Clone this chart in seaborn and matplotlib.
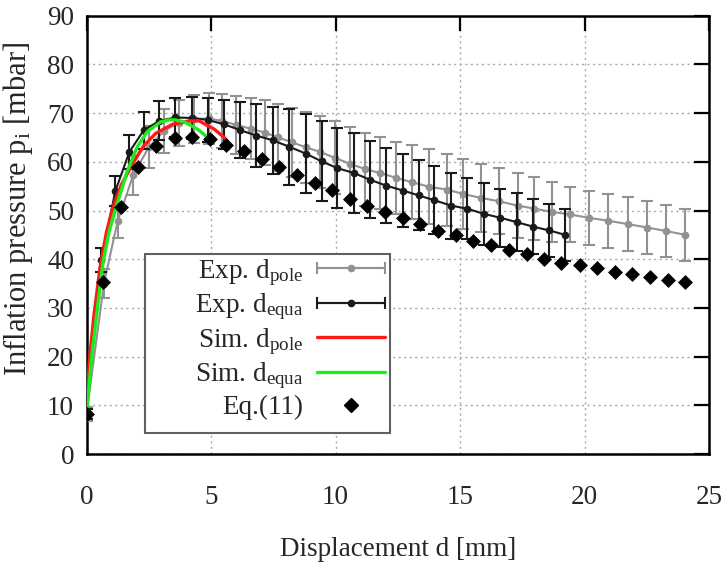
import numpy as np
import pandas as pd
import matplotlib
matplotlib.use("Agg")
import matplotlib.pyplot as plt
import seaborn as sns
from matplotlib.container import ErrorbarContainer
from matplotlib.legend_handler import HandlerErrorbar
from matplotlib.lines import Line2D
from matplotlib.patches import Rectangle

# ---------------- data ----------------
pole_x = [0, 0.70, 1.25, 1.87, 2.50, 3.10, 3.70, 4.30, 4.90, 5.45, 6.00, 6.60, 7.15, 7.70,
          8.25, 8.80, 9.39, 9.98, 10.58, 11.19, 11.79, 12.44, 13.07, 13.74, 14.46, 15.13,
          15.83, 16.57, 17.31, 17.98, 18.69, 19.40, 20.17, 20.95, 21.75, 22.52, 23.27, 24.04]
pole_y = [8.2, 35.0, 47.8, 57.2, 63.0, 66.3, 68.0, 68.8, 68.9, 68.4, 67.6, 66.8, 66.0, 65.0,
          64.0, 63.0, 62.0, 60.8, 59.6, 58.5, 57.7, 56.7, 55.8, 54.9, 54.3, 53.4,
          52.6, 51.9, 51.0, 50.4, 49.7, 49.2, 48.5, 47.9, 47.2, 46.5, 45.8, 45.0]
pole_err = [1.5, 3.0, 3.5, 4.0, 4.3, 4.5, 4.7, 4.9, 5.2, 5.6, 6.0, 6.3, 6.6, 6.9,
            7.1, 7.3, 7.4, 7.5, 7.5, 7.5, 7.4, 7.4, 7.6, 7.7, 7.4, 7.2,
            7.0, 6.8, 6.6, 6.4, 6.1, 5.7, 5.6, 5.5, 5.5, 5.4, 5.3, 5.3]

equa_x = [0, 0.58, 1.16, 1.72, 2.30, 2.93, 3.56, 4.23, 4.86, 5.53, 6.17, 6.81, 7.49, 8.14,
          8.80, 9.44, 10.07, 10.74, 11.39, 12.04, 12.71, 13.34, 13.97, 14.65, 15.27, 15.97,
          16.62, 17.29, 17.92, 18.59, 19.22]
equa_y = [8.2, 39.8, 54.0, 62.0, 66.5, 68.4, 69.1, 69.0, 68.6, 67.7, 66.5, 65.4, 64.4, 63.1,
          61.7, 60.1, 58.7, 57.7, 56.3, 55.1, 54.1, 53.1, 52.1, 51.0, 50.4, 49.3,
          48.5, 47.6, 46.7, 45.9, 45.0]
equa_err = [1.0, 2.5, 3.0, 3.5, 3.8, 4.0, 4.0, 4.3, 4.5, 5.0, 5.7, 6.4, 6.9, 7.8,
            8.2, 8.2, 8.2, 8.3, 7.9, 7.7, 7.5, 7.2, 7.0, 6.8, 6.3, 6.3,
            6.0, 5.9, 5.7, 5.5, 5.3]

sim_pole_x = [0, 0.12, 0.30, 0.55, 0.80, 1.05, 1.40, 1.90, 2.30, 2.77, 3.45, 4.19, 4.52,
              5.13, 5.53, 5.67]
sim_pole_y = [8.2, 19.5, 28.5, 38.5, 45.5, 50.5, 55.3, 60.0, 63.3, 65.8, 67.7, 68.4, 68.4,
              66.7, 65.0, 64.1]
sim_equa_x = [0, 0.20, 0.45, 0.67, 0.90, 1.18, 1.63, 2.03, 2.44, 2.98, 3.30, 3.58, 3.92,
              4.46, 5.06]
sim_equa_y = [8.2, 19.5, 30.5, 39.5, 45.5, 50.5, 58.0, 63.0, 66.2, 68.2, 68.6, 68.6, 68.2,
              66.7, 64.2]

eq11_x = [0, 0.65, 1.37, 2.07, 2.80, 3.54, 4.25, 4.95, 5.60, 6.34, 7.05, 7.75, 8.45, 9.17,
          9.87, 10.58, 11.28, 12.00, 12.71, 13.41, 14.11, 14.82, 15.53, 16.24, 16.98, 17.69,
          18.36, 19.06, 19.80, 20.52, 21.22, 21.89, 22.63, 23.34, 24.04]
eq11_y = [8.2, 35.4, 50.7, 59.0, 63.3, 64.9, 65.0, 64.7, 63.5, 62.2, 60.6, 58.9, 57.3, 55.7,
          54.2, 52.4, 51.0, 49.7, 48.5, 47.2, 45.8, 44.9, 43.8, 42.9, 41.8, 41.0,
          40.0, 39.2, 38.8, 38.1, 37.4, 37.0, 36.3, 35.7, 35.4]

x_ticks = [0, 5, 10, 15, 20, 25]
y_ticks = [0, 10, 20, 30, 40, 50, 60, 70, 80, 90]

labels = ["Exp. d$_{\\mathrm{pole}}$", "Exp. d$_{\\mathrm{equa}}$",
          "Sim. d$_{\\mathrm{pole}}$", "Sim. d$_{\\mathrm{equa}}$", "Eq.(11)"]
x_label = "Displacement d [mm]"
y_label = "Inflation pressure p$_{\\mathrm{i}}$ [mbar]"

# ---------------- style ----------------
sns.set_theme(style="white")
plt.rcParams["font.family"] = ["Liberation Serif", "DejaVu Serif"]
plt.rcParams["mathtext.fontset"] = "custom"
plt.rcParams["mathtext.rm"] = "Liberation Serif"
plt.rcParams["mathtext.it"] = "Liberation Serif:italic"

FS = 19.5
GREY = "#929292"
BLACK = "#1a1a1a"
RED = "#ff1a1a"
GREEN = "#1aee1a"

fig = plt.figure(figsize=(7.25, 5.64), dpi=100)
ax = fig.add_axes([86.5 / 725, 1 - 454 / 564, (709 - 86.5) / 725, (454 - 15.7) / 564])

# experiments (error bars)
eb_pole = ax.errorbar(pole_x, pole_y, yerr=pole_err, color=GREY, ecolor=GREY,
                      marker="o", markersize=4.5, lw=1.5, elinewidth=1.5,
                      capsize=4, capthick=1.5, zorder=3)
eb_equa = ax.errorbar(equa_x, equa_y, yerr=equa_err, color=BLACK, ecolor=BLACK,
                      marker="o", markersize=4.5, lw=1.5, elinewidth=1.5,
                      capsize=4, capthick=1.5, zorder=4)

# simulations
df_sp = pd.DataFrame({"x": sim_pole_x, "y": sim_pole_y})
df_se = pd.DataFrame({"x": sim_equa_x, "y": sim_equa_y})
sns.lineplot(data=df_sp, x="x", y="y", ax=ax, color=RED, lw=2.4, sort=False,
             zorder=5, estimator=None)
sns.lineplot(data=df_se, x="x", y="y", ax=ax, color=GREEN, lw=2.4, sort=False,
             zorder=5, estimator=None)

# Eq. (11)
df_eq = pd.DataFrame({"x": eq11_x, "y": eq11_y})
sns.scatterplot(data=df_eq, x="x", y="y", ax=ax, marker="D", s=58, color="black",
                edgecolor="black", linewidth=0, zorder=6)

# axes
ax.set_xlim(0, 25)
ax.set_ylim(0, 90)
ax.set_xticks(x_ticks)
ax.set_yticks(y_ticks)
ax.set_xticklabels([str(t) for t in x_ticks])
ax.set_yticklabels([str(t) for t in y_ticks])
ax.grid(True, linestyle=(0, (1.5, 2.5)), color="#a8a8a8", lw=1.0)
ax.set_axisbelow(True)
for sp in ax.spines.values():
    sp.set_linewidth(1.8)
    sp.set_color("black")
ax.tick_params(axis="both", direction="in", length=11, width=1.6, color="black",
               labelsize=FS, top=True, right=True)
ax.tick_params(axis="x", pad=22)
ax.tick_params(axis="y", pad=9)
ax.set_xlabel(x_label, fontsize=FS, labelpad=20)
ax.set_ylabel(y_label, fontsize=22)
ax.yaxis.set_label_coords(-0.083, 0.559)

# legend frame (gnuplot-style key box)
def ax_x(px):
    return (px - 86.5) / 622.5

def ax_y(py):
    return (454 - py) / 438.3

ax.add_patch(Rectangle((ax_x(145), ax_y(433)), ax_x(390) - ax_x(145), ax_y(254) - ax_y(433),
                       transform=ax.transAxes, facecolor="white", edgecolor="#606060",
                       lw=1.5, zorder=9))

# legend entries
hl = 2.5
h_pole = ErrorbarContainer(eb_pole.lines, has_xerr=True, has_yerr=False, label=labels[0])
h_equa = ErrorbarContainer(eb_equa.lines, has_xerr=True, has_yerr=False, label=labels[1])
h_sp = Line2D([], [], color=RED, lw=2.4)
h_se = Line2D([], [], color=GREEN, lw=2.4)
h_eq = Line2D([], [], color="black", marker="D", markersize=7.5, ls="none")
leg = ax.legend([h_pole, h_equa, h_sp, h_se, h_eq], labels,
                handler_map={ErrorbarContainer: HandlerErrorbar(xerr_size=hl / 2)},
                loc="upper right", bbox_to_anchor=(ax_x(385), ax_y(257)), borderaxespad=0,
                markerfirst=False, fontsize=FS, handlelength=hl, handletextpad=0.52,
                labelspacing=0.14, borderpad=0, frameon=False, numpoints=1)
leg.set_zorder(10)

fig.savefig("out.png", dpi=100)
